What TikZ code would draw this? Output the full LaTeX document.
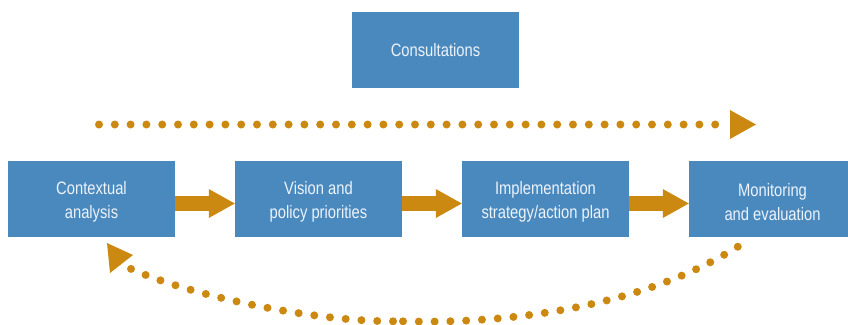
\documentclass[tikz,border=0pt]{standalone}
\usepackage{fontspec}
\setmainfont{Liberation Sans}[FakeStretch=0.82]
\usetikzlibrary{arrows.meta,calc}
\definecolor{boxblue}{RGB}{74,137,190}
\definecolor{flowgold}{RGB}{203,137,18}
\definecolor{boxtext}{RGB}{236,243,251}
\tikzset{
	stage/.style={fill=boxblue, text=boxtext, minimum width=167pt, minimum height=76pt, inner sep=0pt, align=center, font=\fontsize{18}{24}\selectfont},
	twoline/.style={text height=43pt},
	blockarrow/.style={flowgold, line width=15pt, -{Triangle[length=26pt, width=29pt, line width=0pt]}},
	dotline/.style={flowgold, line width=8pt, line cap=round, dash pattern=on 0pt off 15.8pt},
}

\begin{document}
\begin{tikzpicture}[x=1pt, y=-1pt]
		%%%%% START %%%%%
		
		\useasboundingbox (0, 0) rectangle (848, 324);
		
		\node[stage] (cons) at (435.5, 50) {Consultations};
		
		\node[stage, twoline] (ctx) at (91.5, 199) {Contextual\\analysis};
		\node[stage, twoline] (vis) at (318.5, 199) {Vision and\\policy priorities};
		\node[stage, twoline] (impl) at (545.5, 199) {Implementation\\strategy/action plan};
		\node[stage, twoline] (mon) at (772.5, 199) {Monitoring\\and evaluation};
		
		\draw[blockarrow] ([yshift=-4.5pt]ctx.east) -- ([yshift=-4.5pt]vis.west);
		\draw[blockarrow] ([yshift=-4.5pt]vis.east) -- ([yshift=-4.5pt]impl.west);
		\draw[blockarrow] ([yshift=-4.5pt]impl.east) -- ([yshift=-4.5pt]mon.west);
		
		\coordinate (cons-start) at (99, 124.5);
		\coordinate (cons-end) at (715.5, 124.5);
		\draw[dotline] (cons-start) -- (cons-end);
		\fill[flowgold] ($(cons-end)+(14.5, -14.5)$) -- ++(26, 14.5) -- ++(-26, 14.5) -- cycle;
		
		\coordinate (mon-out) at (742, 244);
		\coordinate (loop-right) at (403, 321.3);
		\coordinate (loop-left) at (393, 321.3);
		\coordinate (ctx-in) at (121, 264);
		\draw[dotline] (loop-right) .. controls (500, 324) and (640, 310) .. (mon-out);
		\draw[dotline] (loop-left) .. controls (300, 321) and (170, 290) .. (ctx-in);
		\fill[flowgold] ($(ctx-in)+(-14, -21)$) -- ($(ctx-in)+(12, -9)$) -- ($(ctx-in)+(-11, 9)$) -- cycle;
		
		%%%%% END %%%%%
	\end{tikzpicture}
\end{document}
